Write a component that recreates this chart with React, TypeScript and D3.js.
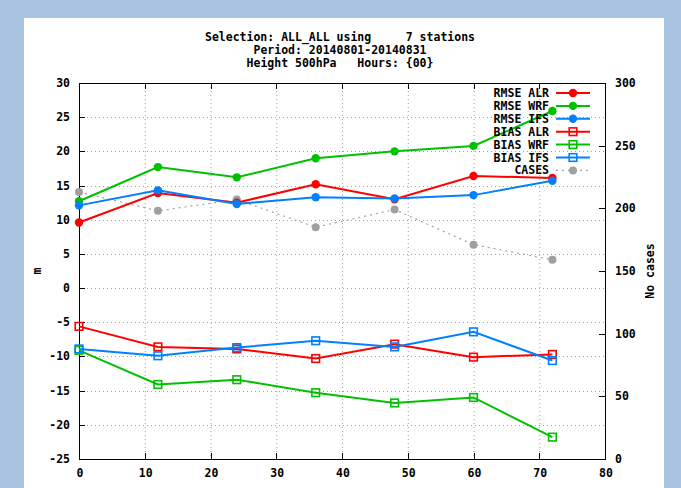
import { useEffect, useRef } from 'react';
import * as d3 from 'd3';

const leadTimes = [0, 12, 24, 36, 48, 60, 72];

const rmseAlr = [9.6, 13.9, 12.5, 15.2, 13.0, 16.4, 16.1];
const rmseWrf = [12.7, 17.7, 16.2, 19.0, 20.0, 20.8, 25.9];
const rmseIfs = [12.1, 14.3, 12.3, 13.3, 13.1, 13.6, 15.7];
const biasAlr = [-5.6, -8.6, -8.9, -10.3, -8.2, -10.1, -9.7];
const biasWrf = [-9.1, -14.1, -13.4, -15.3, -16.8, -16.0, -21.8];
const biasIfs = [-8.9, -9.9, -8.7, -7.7, -8.6, -6.4, -10.6];
const cases = [213, 198, 207, 185, 199, 171, 159];

const xTicks = [0, 10, 20, 30, 40, 50, 60, 70, 80];
const yTicks = [-25, -20, -15, -10, -5, 0, 5, 10, 15, 20, 25, 30];
const y2Ticks = [0, 50, 100, 150, 200, 250, 300];

const titleLines = [
  'Selection: ALL_ALL using     7 stations',
  'Period: 20140801-20140831',
  'Height 500hPa   Hours: {00}',
];

const RED = '#ff0000';
const GREEN = '#00c000';
const BLUE = '#0080ff';
const GRAY = '#a0a0a0';

const series = [
  { name: 'RMSE ALR', values: rmseAlr, color: RED, mark: 'circle' },
  { name: 'RMSE WRF', values: rmseWrf, color: GREEN, mark: 'circle' },
  { name: 'RMSE IFS', values: rmseIfs, color: BLUE, mark: 'circle' },
  { name: 'BIAS ALR', values: biasAlr, color: RED, mark: 'square' },
  { name: 'BIAS WRF', values: biasWrf, color: GREEN, mark: 'square' },
  { name: 'BIAS IFS', values: biasIfs, color: BLUE, mark: 'square' },
];

const FONT = '"DejaVu Sans Mono", monospace';

export default function App() {
  const svgRef = useRef<SVGSVGElement>(null);

  useEffect(() => {
    if (!svgRef.current) return;
    const svg = d3.select(svgRef.current);
    svg.selectAll('*').remove();

    const W = 681, H = 488;
    const m = { left: 79, right: 605, top: 83, bottom: 459 };

    svg.append('rect').attr('width', W).attr('height', H).attr('fill', '#a9c3e0');
    svg.append('rect').attr('x', 24).attr('y', 18).attr('width', 640).attr('height', H - 18).attr('fill', '#fff');

    const x = d3.scaleLinear().domain([0, 80]).range([m.left, m.right]);
    const y = d3.scaleLinear().domain([-25, 30]).range([m.bottom, m.top]);
    const y2 = d3.scaleLinear().domain([0, 300]).range([m.bottom, m.top]);

    const txt = (sel: any) => sel
      .attr('font-family', FONT).attr('font-weight', 'bold')
      .attr('font-size', '11.5px').attr('fill', '#000');

    // title
    svg.append('g').selectAll('text').data(titleLines).enter().append('text')
      .call(txt)
      .attr('x', 340).attr('y', (_, i) => 41 + i * 13)
      .attr('text-anchor', 'middle')
      .style('white-space', 'pre')
      .text(d => d);

    // grid
    const grid = svg.append('g')
      .attr('stroke', GRAY).attr('stroke-width', 1).attr('stroke-dasharray', '1,3');
    grid.selectAll('.gx').data(xTicks.slice(1, -1)).enter().append('line')
      .attr('x1', d => x(d) + 0.5).attr('x2', d => x(d) + 0.5)
      .attr('y1', m.top).attr('y2', m.bottom);
    grid.selectAll('.gy').data(yTicks.slice(1, -1)).enter().append('line')
      .attr('x1', m.left).attr('x2', m.right)
      .attr('y1', d => Math.round(y(d)) + 0.5).attr('y2', d => Math.round(y(d)) + 0.5);

    // axes
    const axisG = svg.append('g').attr('stroke', '#000').attr('stroke-width', 1);
    axisG.append('rect')
      .attr('x', m.left + 0.5).attr('y', m.top + 0.5)
      .attr('width', m.right - m.left).attr('height', m.bottom - m.top)
      .attr('fill', 'none');
    xTicks.forEach(t => {
      const px = Math.round(x(t)) + 0.5;
      axisG.append('line').attr('x1', px).attr('x2', px).attr('y1', m.bottom).attr('y2', m.bottom - 6);
      axisG.append('line').attr('x1', px).attr('x2', px).attr('y1', m.top).attr('y2', m.top + 6);
    });
    yTicks.forEach(t => {
      const py = Math.round(y(t)) + 0.5;
      axisG.append('line').attr('x1', m.left).attr('x2', m.left + 6).attr('y1', py).attr('y2', py);
    });
    y2Ticks.forEach(t => {
      const py = Math.round(y2(t)) + 0.5;
      axisG.append('line').attr('x1', m.right - 6).attr('x2', m.right + 0.5).attr('y1', py).attr('y2', py);
    });

    svg.append('g').selectAll('text').data(xTicks).enter().append('text')
      .call(txt).attr('x', d => x(d) + 1).attr('y', m.bottom + 18)
      .attr('text-anchor', 'middle').text(d => d);
    svg.append('g').selectAll('text').data(yTicks).enter().append('text')
      .call(txt).attr('x', 70).attr('y', d => y(d) + 4)
      .attr('text-anchor', 'end').text(d => d);
    svg.append('g').selectAll('text').data(y2Ticks).enter().append('text')
      .call(txt).attr('x', 615).attr('y', d => y2(d) + 4)
      .attr('text-anchor', 'start').text(d => d);

    svg.append('text').call(txt)
      .attr('transform', 'translate(41,271) rotate(-90)')
      .attr('text-anchor', 'middle').text('m');
    svg.append('text').call(txt)
      .attr('transform', 'translate(654,271) rotate(-90)')
      .attr('text-anchor', 'middle').text('No cases');
    // x-axis title: only its top edge shows inside the frame, as in the source image
    svg.append('text').call(txt)
      .attr('x', 342).attr('y', 497.5)
      .attr('text-anchor', 'middle').text('Forecast length');

    // data
    const plot = svg.append('g');
    const line = d3.line<number>().x((_, i) => x(leadTimes[i])).y(d => y(d));
    const caseLine = d3.line<number>().x((_, i) => x(leadTimes[i])).y(d => y2(d));

    plot.append('path').attr('d', caseLine(cases)!)
      .attr('fill', 'none').attr('stroke', GRAY).attr('stroke-width', 1.2)
      .attr('stroke-dasharray', '2,4');
    plot.selectAll('.case').data(cases).enter().append('circle')
      .attr('cx', (_, i) => x(leadTimes[i])).attr('cy', d => y2(d))
      .attr('r', 4).attr('fill', GRAY);

    const drawMark = (g: any, mark: string, cx: number, cy: number, color: string) => {
      if (mark === 'circle') {
        g.append('circle').attr('cx', cx).attr('cy', cy).attr('r', 4.2).attr('fill', color);
      } else {
        g.append('rect').attr('x', cx - 3.8).attr('y', cy - 3.8)
          .attr('width', 7.6).attr('height', 7.6)
          .attr('fill', 'none').attr('stroke', color).attr('stroke-width', 1.6);
      }
    };

    series.forEach(s => {
      plot.append('path').attr('d', line(s.values)!)
        .attr('fill', 'none').attr('stroke', s.color).attr('stroke-width', 2);
      s.values.forEach((v, i) => drawMark(plot, s.mark, x(leadTimes[i]), y(v), s.color));
    });

    // legend
    const leg = svg.append('g');
    const rowY = (i: number) => 93 + i * 12.9;
    series.forEach((s, i) => {
      const ly = rowY(i);
      leg.append('text').call(txt).attr('x', 549).attr('y', ly + 4)
        .attr('text-anchor', 'end').text(s.name);
      leg.append('line').attr('x1', 556).attr('x2', 590).attr('y1', ly).attr('y2', ly)
        .attr('stroke', s.color).attr('stroke-width', 2);
      drawMark(leg, s.mark, 573, ly, s.color);
    });
    const cy = rowY(6);
    leg.append('text').call(txt).attr('x', 549).attr('y', cy + 4)
      .attr('text-anchor', 'end').text('CASES');
    leg.append('line').attr('x1', 556).attr('x2', 590).attr('y1', cy).attr('y2', cy)
      .attr('stroke', GRAY).attr('stroke-width', 1.2).attr('stroke-dasharray', '2,4');
    leg.append('circle').attr('cx', 573).attr('cy', cy).attr('r', 4).attr('fill', GRAY);
  }, []);

  return (
    <div style={{ position: 'fixed', left: 0, top: 0, width: 681, height: 488, overflow: 'hidden' }}>
      <svg ref={svgRef} width={681} height={488} style={{ display: 'block' }} />
    </div>
  );
}
